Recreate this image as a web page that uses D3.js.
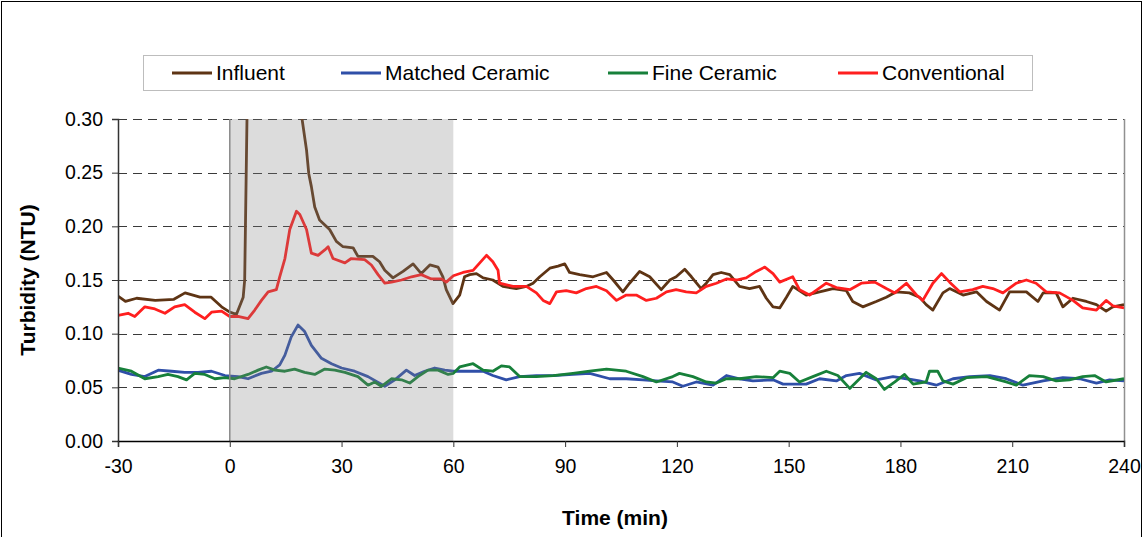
<!DOCTYPE html>
<html lang="en">
<head>
    <meta charset="UTF-8">
    <title>Turbidity (NTU)</title>
    <script src="https://d3js.org/d3.v7.min.js"></script>
    <style>
        body {
            margin: 0;
            background-color: white;
            font-family: "Liberation Sans", Arial, sans-serif;
        }

        .tick text {
            font-size: 19.5px;
            fill: #000;
        }

        .axis-title {
            font-size: 21px;
            font-weight: bold;
            fill: #000;
        }

        .legend text {
            font-size: 21px;
            fill: #000;
        }
    </style>
</head>
<body>
    <div id="chart"></div>
    <script>
        // Readings [time (min), turbidity (NTU)]
        const influent = [
            [-30,0.135],[-28,0.130],[-25,0.133],[-20,0.131],[-15,0.132],[-12,0.138],[-8,0.134],[-5,0.134],
            [-2.2,0.125],[0,0.120],[1.8,0.118],[3.6,0.134],[4,0.150],[4.7,0.320],[6,0.600],[12,0.650],
            [18.5,0.360],[19.4,0.300],[20.6,0.271],[21.2,0.249],[21.9,0.237],[22.8,0.218],[24.1,0.206],
            [26.8,0.197],[28.6,0.186],[30.4,0.181],[33.1,0.180],[34.4,0.172],[38.4,0.172],[40.2,0.167],
            [41.6,0.159],[43.8,0.152],[46.5,0.158],[49.2,0.165],[51.4,0.156],[53.7,0.164],[55.9,0.162],
            [57.2,0.153],[58.1,0.141],[59.9,0.128],[61.7,0.136],[63,0.153],[64.4,0.155],[66.2,0.156],
            [68,0.152],[70.6,0.150],[73.3,0.144],[76.9,0.142],[79.6,0.144],[81.4,0.147],[83.2,0.153],
            [85.9,0.161],[88.1,0.163],[89.9,0.165],[91.2,0.157],[93.9,0.155],[97.5,0.153],[101.1,0.157],
            [102.9,0.150],[105.5,0.139],[107.3,0.147],[110,0.158],[112.7,0.153],[115.8,0.141],[118.1,0.150],
            [119.8,0.153],[122.1,0.160],[123.9,0.153],[126.5,0.142],[127.9,0.147],[129.7,0.155],[131.9,0.157],
            [134.2,0.155],[136.8,0.144],[139.5,0.142],[142.2,0.144],[144,0.133],[145.8,0.125],[147.6,0.124],
            [149.4,0.134],[151.1,0.144],[154.7,0.136],[158.3,0.139],[161.9,0.142],[165.5,0.140],[167.2,0.130],
            [169.9,0.125],[173.5,0.130],[176.2,0.134],[178.9,0.139],[182.4,0.138],[185.1,0.134],[186.9,0.127],
            [188.7,0.122],[191.4,0.138],[193.2,0.142],[196.8,0.136],[200.4,0.139],[203.1,0.130],[206.6,0.122],
            [209.3,0.139],[213.8,0.139],[216.9,0.130],[218.3,0.138],[221.8,0.138],[223.6,0.125],[226.3,0.133],
            [229.9,0.130],[232.6,0.127],[235.2,0.121],[237,0.125],[240,0.127]
        ];

        const matchedCeramic = [
            [-30,0.066],[-26.4,0.062],[-22.8,0.060],[-19.2,0.066],[-15.6,0.065],[-12.1,0.064],[-8.5,0.064],
            [-4.9,0.065],[-1.3,0.061],[2.2,0.060],[4.9,0.058],[8.5,0.063],[11.2,0.065],[13.4,0.071],
            [14.8,0.080],[16.5,0.097],[18.3,0.108],[20.1,0.102],[21.9,0.089],[24.6,0.077],[27.3,0.072],
            [30,0.068],[33.5,0.065],[37.1,0.060],[41.6,0.051],[44.3,0.057],[47.4,0.066],[49.6,0.061],
            [52.3,0.065],[55,0.068],[57.7,0.066],[60,0.065],[64.4,0.065],[68,0.065],[70.6,0.061],
            [74.2,0.057],[77.8,0.060],[82.3,0.061],[86.8,0.061],[92.1,0.062],[96.6,0.063],[102,0.058],
            [106.4,0.058],[110.9,0.057],[114.5,0.056],[118.9,0.055],[121.6,0.051],[125.2,0.055],[129.7,0.052],
            [133.3,0.061],[136.8,0.058],[140.4,0.056],[145.8,0.057],[148.5,0.053],[151.1,0.053],[154.7,0.053],
            [158.3,0.058],[162.8,0.056],[165.5,0.061],[169,0.063],[173.5,0.057],[178,0.060],[181.6,0.058],
            [185.1,0.056],[189.6,0.052],[194.1,0.058],[198.6,0.060],[204,0.061],[208.4,0.058],[212.9,0.052],
            [218.3,0.056],[223.6,0.059],[228.1,0.058],[232.6,0.054],[236.1,0.057],[240,0.056]
        ];

        const fineCeramic = [
            [-30,0.068],[-26.4,0.065],[-22.8,0.058],[-19.2,0.060],[-16.6,0.062],[-13.9,0.060],[-11.6,0.057],
            [-9.4,0.063],[-6.7,0.062],[-4,0.058],[-1.3,0.059],[1.3,0.058],[4.9,0.062],[7.6,0.066],
            [9.8,0.069],[12.1,0.066],[14.8,0.065],[17.4,0.067],[20.1,0.064],[22.8,0.062],[25.5,0.067],
            [28.2,0.066],[30.9,0.064],[34.4,0.060],[37.1,0.052],[38.9,0.055],[40.7,0.051],[43.4,0.058],
            [46.1,0.057],[48.3,0.054],[50.5,0.060],[53.2,0.066],[55.9,0.066],[58.6,0.062],[60,0.063],
            [61.7,0.069],[65.3,0.072],[68,0.066],[70.6,0.065],[72.9,0.070],[75.1,0.069],[77.8,0.060],
            [82.3,0.060],[86.8,0.061],[92.1,0.063],[96.6,0.065],[101.1,0.067],[106.4,0.065],[110.9,0.060],
            [114.5,0.055],[118.9,0.060],[120.7,0.063],[124.3,0.060],[127.9,0.055],[130.6,0.054],[133.3,0.058],
            [136.8,0.058],[141.3,0.060],[145.8,0.059],[147.6,0.065],[150.3,0.063],[152.9,0.055],[156.5,0.060],
            [160.1,0.065],[163.2,0.061],[166.4,0.049],[170.8,0.064],[173.5,0.058],[175.7,0.048],[178.5,0.055],
            [181.1,0.062],[183.4,0.053],[186.9,0.055],[187.8,0.065],[190,0.065],[191.4,0.056],[194.1,0.053],
            [197.7,0.059],[203.1,0.060],[208.4,0.055],[211.1,0.052],[214.6,0.061],[218.3,0.060],[221.8,0.056],
            [225.4,0.057],[228.9,0.060],[232.1,0.061],[235.2,0.055],[240,0.058]
        ];

        const conventional = [
            [-30,0.117],[-27.3,0.119],[-25.5,0.116],[-22.8,0.125],[-20.1,0.123],[-17.4,0.119],[-14.8,0.125],
            [-12.1,0.127],[-9.4,0.120],[-6.7,0.114],[-4.9,0.120],[-2.2,0.121],[0,0.116],[2.2,0.116],
            [4.9,0.114],[6.7,0.122],[8.5,0.131],[10.3,0.139],[12.5,0.141],[13.4,0.153],[14.8,0.170],
            [16.1,0.197],[17.9,0.214],[18.8,0.211],[20.6,0.197],[21.9,0.175],[23.7,0.173],[25.5,0.178],
            [26.4,0.181],[27.7,0.170],[30.9,0.166],[32.6,0.170],[36.2,0.169],[38,0.164],[39.8,0.155],
            [41.6,0.147],[43.4,0.148],[46.1,0.150],[48.8,0.153],[51.4,0.155],[54.1,0.151],[56.8,0.151],
            [58.1,0.148],[60,0.154],[62.6,0.157],[65.3,0.159],[67.1,0.166],[68.9,0.173],[70.6,0.167],
            [72,0.159],[72.4,0.147],[76,0.144],[79.6,0.144],[82.3,0.138],[84.1,0.131],[85.9,0.128],
            [87.7,0.139],[90.3,0.140],[93,0.138],[95.7,0.142],[98.4,0.144],[101.1,0.140],[103.8,0.131],
            [106.4,0.136],[109.1,0.136],[111.8,0.131],[114.5,0.133],[117.2,0.139],[119.8,0.141],[122.5,0.139],
            [125.2,0.138],[127.9,0.144],[130.6,0.147],[133.3,0.151],[136,0.150],[138.6,0.152],[141.3,0.158],
            [143.6,0.162],[145.8,0.156],[147.6,0.148],[151.1,0.153],[152.9,0.141],[155.6,0.136],[160.1,0.147],
            [162.8,0.143],[166.4,0.141],[169.5,0.147],[173.1,0.148],[176.2,0.142],[178.5,0.138],[181.6,0.147],
            [184.3,0.136],[186,0.131],[188.7,0.147],[191,0.156],[193.2,0.148],[195.9,0.139],[199.4,0.141],
            [202.1,0.144],[204.8,0.142],[207.5,0.138],[211.1,0.147],[213.8,0.150],[216.4,0.147],[219.1,0.139],
            [222.7,0.138],[226.3,0.131],[228.9,0.124],[232.6,0.122],[235.2,0.131],[237,0.126],[240,0.124]
        ];

        const seriesNames = ["Influent", "Matched Ceramic", "Fine Ceramic", "Conventional"];
        const seriesColors = ["#5e3414", "#2f4fa8", "#17803a", "#ff1f1f"];
        const xTicks = [-30, 0, 30, 60, 90, 120, 150, 180, 210, 240];
        const yTicks = [0, 0.05, 0.10, 0.15, 0.20, 0.25, 0.30];
        const dosingWindow = [0, 60];

        const W = 1143, H = 537;
        const plot = { left: 118, right: 1124, top: 119, bottom: 441 };

        const svg = d3.select("#chart").append("svg")
            .attr("width", W)
            .attr("height", H);

        // chart frame
        svg.append("rect")
            .attr("x", 1.5).attr("y", 1.5)
            .attr("width", W - 3).attr("height", H + 10)
            .attr("fill", "none").attr("stroke", "#000").attr("stroke-width", 1);

        const x = d3.scaleLinear().domain([-30, 240]).range([plot.left, plot.right]);
        const y = d3.scaleLinear().domain([0, 0.3]).range([plot.bottom, plot.top]);

        // dashed gridlines
        svg.append("g")
            .selectAll("line")
            .data(yTicks.filter(d => d > 0))
            .join("line")
            .attr("x1", plot.left).attr("x2", plot.right)
            .attr("y1", d => Math.round(y(d)) + 0.5).attr("y2", d => Math.round(y(d)) + 0.5)
            .attr("stroke", "#3a3a3a")
            .attr("stroke-width", 1)
            .attr("stroke-dasharray", "9,6");

        // right border of plot area
        svg.append("line")
            .attr("x1", plot.right + 0.5).attr("x2", plot.right + 0.5)
            .attr("y1", plot.top).attr("y2", plot.bottom)
            .attr("stroke", "#909090").attr("stroke-width", 1.5);

        // series lines
        svg.append("clipPath").attr("id", "plot-clip")
            .append("rect")
            .attr("x", plot.left).attr("y", plot.top)
            .attr("width", plot.right - plot.left).attr("height", plot.bottom - plot.top);

        const line = d3.line().x(d => x(d[0])).y(d => y(d[1]));
        const allSeries = [influent, matchedCeramic, fineCeramic, conventional];

        svg.append("g")
            .attr("clip-path", "url(#plot-clip)")
            .selectAll("path")
            .data(allSeries)
            .join("path")
            .attr("d", line)
            .attr("fill", "none")
            .attr("stroke", (d, i) => seriesColors[i])
            .attr("stroke-width", 2.8)
            .attr("stroke-linejoin", "round");

        // shaded window (drawn over the lines, semi-transparent)
        svg.append("rect")
            .attr("x", x(dosingWindow[0]))
            .attr("y", plot.top)
            .attr("width", x(dosingWindow[1]) - x(dosingWindow[0]))
            .attr("height", plot.bottom - plot.top)
            .attr("fill", "#808080")
            .attr("fill-opacity", 0.28);

        svg.append("line")
            .attr("x1", x(0)).attr("x2", x(0))
            .attr("y1", plot.top).attr("y2", plot.bottom)
            .attr("stroke", "#8a8a8a").attr("stroke-width", 1.5);

        // axes
        const yAxis = svg.append("g")
            .attr("transform", `translate(${plot.left},0)`)
            .call(d3.axisLeft(y).tickValues(yTicks).tickFormat(d3.format(".2f")).tickSize(6).tickPadding(9));
        yAxis.select(".domain").attr("stroke", "#333").attr("stroke-width", 1.5);
        yAxis.selectAll(".tick line").attr("stroke", "#333");

        // plain hyphen for negatives, as in the original
        const xAxis = svg.append("g")
            .attr("transform", `translate(0,${plot.bottom})`)
            .call(d3.axisBottom(x).tickValues(xTicks).tickFormat(d => String(d)).tickSize(6).tickPadding(12));
        xAxis.select(".domain").attr("stroke", "#000").attr("stroke-width", 1.5);
        xAxis.selectAll(".tick line").attr("stroke", "#333");

        svg.selectAll(".tick text").attr("font-family", "'Liberation Sans', Arial, sans-serif");

        // axis titles
        svg.append("text")
            .attr("class", "axis-title")
            .attr("x", (plot.left + plot.right) / 2 - 6)
            .attr("y", 525)
            .attr("text-anchor", "middle")
            .text("Time (min)");

        svg.append("text")
            .attr("class", "axis-title")
            .attr("transform", `translate(35,${(plot.top + plot.bottom) / 2}) rotate(-90)`)
            .attr("text-anchor", "middle")
            .text("Turbidity (NTU)");

        // legend
        const legend = svg.append("g").attr("class", "legend");
        legend.append("rect")
            .attr("x", 143.5).attr("y", 55.5)
            .attr("width", 889).attr("height", 35)
            .attr("fill", "white").attr("stroke", "#bdbdbd");

        const legendX = [172, 341, 608, 838];
        const items = legend.selectAll("g.item")
            .data(seriesNames)
            .join("g")
            .attr("class", "item")
            .attr("transform", (d, i) => `translate(${legendX[i]},73)`);

        items.append("line")
            .attr("x1", 0).attr("x2", 40)
            .attr("stroke", (d, i) => seriesColors[i])
            .attr("stroke-width", 3);

        items.append("text")
            .attr("x", 44)
            .attr("dy", "0.35em")
            .text(d => d);
    </script>
</body>
</html>
